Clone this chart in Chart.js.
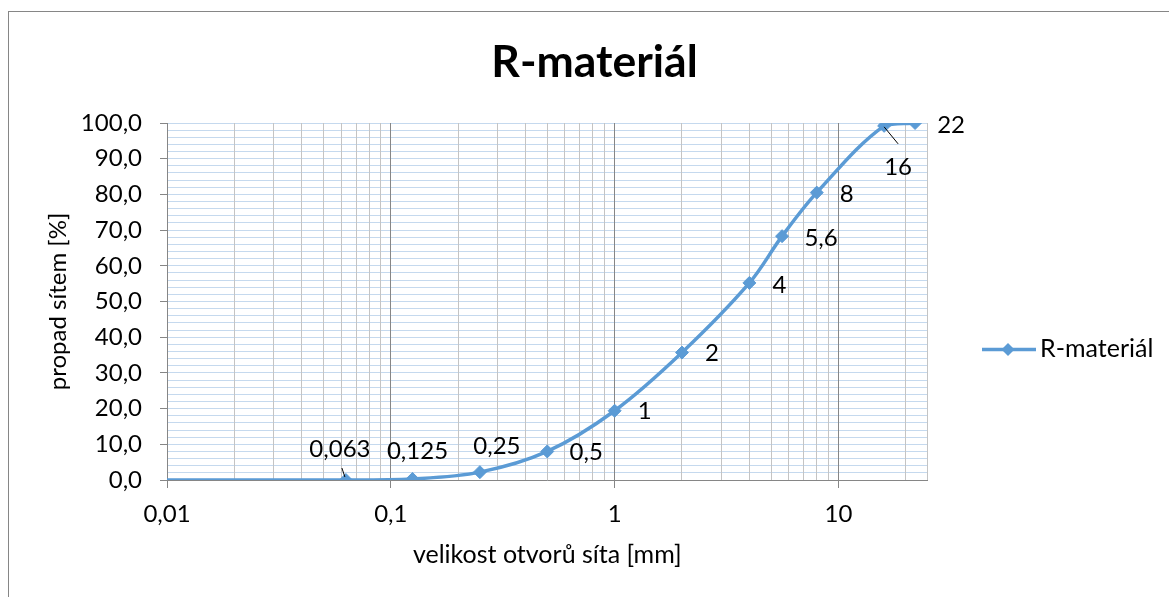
<!DOCTYPE html>
<html>
<head>
<meta charset="utf-8">
<title>R-materiál</title>
<script src="https://cdn.jsdelivr.net/npm/chart.js@4.4.1/dist/chart.umd.min.js"></script>
<style>
  html, body { margin: 0; padding: 0; background: #fff; }
</style>
</head>
<body>
<canvas id="myChart" width="1169" height="597"></canvas>
<script>
// HODNOTY
const velikostSit = [0.01, 0.063, 0.125, 0.25, 0.5, 1, 2, 4, 5.6, 8, 16, 22];
const propad = [0.0, 0.0, 0.3, 2.2, 8.0, 19.4, 35.7, 55.2, 68.3, 80.5, 99.2, 100.0];
const popisky = [null, "0,063", "0,125", "0,25", "0,5", "1", "2", "4", "5,6", "8", "16", "22"];
const xDekady = [0.01, 0.1, 1, 10];
const xMax = 25;
const yPopisky = [0, 10, 20, 30, 40, 50, 60, 70, 80, 90, 100];

// posun popisku od bodu [dx, dy] a pripadna odkazova cara [x1, y1, x2, y2]
const posunPopisku = [null, [-6, -31, -1, -3, -4, -12], [5, -28], [17, -26], [39, 1], [30, 1],
  [30, 1], [30, 2], [39, 2], [30, 2], [14, 41, 0, 1, 14, 18], [36, 2]];

const barvaCary = "#5B9BD5";
const seda = "#868686";
const pismo = "Lato, 'Open Sans', sans-serif";

// mrizka na log. ose: 1..9 v kazde dekade
const xMrizka = [];
xDekady.forEach((d) => {
  for (let m = 1; m <= 9; m++) {
    const v = +(d * m).toPrecision(3);
    if (v < xMax) xMrizka.push(v);
  }
});
xMrizka.push(xMax);

const yMrizka = [];
for (let v = 0; v <= 100; v += 2) yMrizka.push(v);

function kosoctverec(ctx, x, y, r) {
  ctx.beginPath();
  ctx.moveTo(x, y - r);
  ctx.lineTo(x + r, y);
  ctx.lineTo(x, y + r);
  ctx.lineTo(x - r, y);
  ctx.closePath();
  ctx.fill();
}

// vlastni kresba: ramecek, nadpis, legenda a popisky bodu
const kresba = {
  id: "kresba",
  afterDraw(chart) {
    const ctx = chart.ctx;
    ctx.save();

    ctx.strokeStyle = seda;
    ctx.lineWidth = 1;
    ctx.strokeRect(8.5, 11.5, 1300, 700);

    ctx.fillStyle = "#000";
    ctx.font = "bold 44.5px " + pismo;
    ctx.textAlign = "center";
    ctx.textBaseline = "alphabetic";
    ctx.fillText("R-materiál", 594.5, 77);

    // legenda
    const ds = chart.data.datasets[0];
    ctx.strokeStyle = ds.borderColor;
    ctx.lineWidth = ds.borderWidth;
    ctx.beginPath();
    ctx.moveTo(982, 349.5);
    ctx.lineTo(1036, 349.5);
    ctx.stroke();
    ctx.fillStyle = ds.borderColor;
    kosoctverec(ctx, 1008, 349.5, 6.5);
    ctx.fillStyle = "#000";
    ctx.font = "25px " + pismo;
    ctx.textAlign = "left";
    ctx.fillText(ds.label, 1040, 357);

    // popisky bodu
    const meta = chart.getDatasetMeta(0);
    ctx.font = "24px " + pismo;
    ctx.textAlign = "center";
    ctx.textBaseline = "middle";
    meta.data.forEach((bod, i) => {
      if (!popisky[i]) return;
      const p = posunPopisku[i];
      ctx.fillStyle = "#000";
      ctx.fillText(popisky[i], bod.x + p[0], bod.y + p[1]);
      if (p.length > 2) {
        ctx.strokeStyle = "#000";
        ctx.lineWidth = 1;
        ctx.beginPath();
        ctx.moveTo(bod.x + p[2], bod.y + p[3]);
        ctx.lineTo(bod.x + p[4], bod.y + p[5]);
        ctx.stroke();
      }
    });
    ctx.restore();
  }
};

Chart.defaults.font.family = pismo;
Chart.defaults.color = "#000";

new Chart(document.getElementById("myChart"), {
  type: "line",
  data: {
    datasets: [{
      label: "R-materiál",
      data: velikostSit.map((x, i) => ({ x: x, y: propad[i] })),
      borderColor: barvaCary,
      backgroundColor: barvaCary,
      borderWidth: 3.5,
      pointStyle: "rectRot",
      pointRadius: popisky.map((p) => (p ? 6.5 : 0)),
      pointBorderWidth: 1,
      tension: 0.35,
      fill: false
    }]
  },
  options: {
    responsive: false,
    animation: false,
    devicePixelRatio: 1,
    layout: { padding: { left: 8, top: 123, right: 241.5, bottom: 0 } },
    plugins: {
      legend: { display: false },
      title: { display: false },
      tooltip: { enabled: false }
    },
    scales: {
      x: {
        type: "logarithmic",
        min: 0.01,
        max: xMax,
        afterBuildTicks: (s) => { s.ticks = xMrizka.map((v) => ({ value: v })); },
        afterFit: (s) => { s.height = 117; },
        ticks: {
          autoSkip: false,
          maxRotation: 0,
          padding: 12,
          font: { size: 24 },
          callback: (v) => (xDekady.includes(v) ? String(v).replace(".", ",") : "")
        },
        grid: {
          z: -1,
          color: (c) => (xDekady.includes(c.tick.value) ? seda : "#c4c4c4"),
          tickColor: (c) => (xDekady.includes(c.tick.value) ? seda : "transparent"),
          tickLength: 8
        },
        border: { color: seda },
        title: {
          display: true,
          text: "velikost otvorů síta [mm]",
          font: { size: 25 },
          padding: { top: 0, bottom: 27 }
        }
      },
      y: {
        min: 0,
        max: 100,
        afterBuildTicks: (s) => { s.ticks = yMrizka.map((v) => ({ value: v })); },
        afterFit: (s) => { s.width = 159; },
        ticks: {
          autoSkip: false,
          padding: 18,
          font: { size: 24 },
          callback: (v) => (yPopisky.includes(v) ? v.toFixed(1).replace(".", ",") : "")
        },
        grid: {
          z: -2,
          color: "#c5d9ee",
          tickColor: (c) => (yPopisky.includes(c.tick.value) ? seda : "transparent"),
          tickLength: 7
        },
        border: { color: seda },
        title: {
          display: true,
          text: "propad sítem [%]",
          font: { size: 24 },
          padding: { top: 36, bottom: 0 }
        }
      }
    }
  },
  plugins: [kresba]
});
</script>
</body>
</html>
